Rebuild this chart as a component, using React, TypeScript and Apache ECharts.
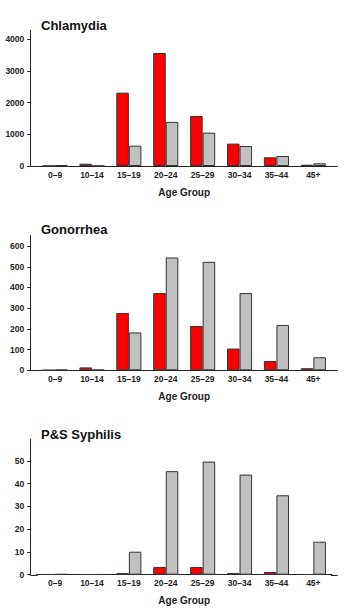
import React, { useEffect, useRef } from "react";
import * as echarts from "echarts";

const categories = ["0–9", "10–14", "15–19", "20–24", "25–29", "30–34", "35–44", "45+"];

const chlamydiaRed = [5, 72, 2310, 3560, 1575, 705, 275, 40];
const chlamydiaGrey = [20, 5, 640, 1390, 1050, 630, 315, 85];
const gonorrheaRed = [1, 14, 277, 373, 214, 105, 45, 10];
const gonorrheaGrey = [3, 3, 183, 545, 524, 373, 219, 63];
const syphilisRed = [0.2, 0.2, 0.7, 3.4, 3.4, 0.7, 1.2, 0.2];
const syphilisGrey = [0.3, 0.2, 10.1, 45.5, 49.7, 44.0, 34.9, 14.5];

const chlamydiaTicks = [0, 1000, 2000, 3000, 4000];
const gonorrheaTicks = [0, 100, 200, 300, 400, 500, 600];
const syphilisTicks = [0, 10, 20, 30, 40, 50];

const titles = ["Chlamydia", "Gonorrhea", "P&S Syphilis"];

const FONT = "'Liberation Sans', Arial, sans-serif";
const TEXT = "#222";
const RED = "#ff0000";
const GREY = "#c0c0c0";
const BORDER = "#333";

export default function App() {
  const ref = useRef<HTMLDivElement>(null);
  useEffect(() => {
    if (!ref.current) return;
    const chart = echarts.init(ref.current, undefined, { renderer: "svg" });

    const gridLeft = 36.6;
    const gridWidth = 295.2;
    const axisX = 30.3;
    const axisRight = 337.7;
    const panels = [
      { top: 30.3, bottom: 166, max: 4275, interval: 1000, ticks: chlamydiaTicks, red: chlamydiaRed, grey: chlamydiaGrey, titleY: 25 },
      { top: 235.3, bottom: 370.3, max: 652, interval: 100, ticks: gonorrheaTicks, red: gonorrheaRed, grey: gonorrheaGrey, titleY: 229.5 },
      { top: 439.3, bottom: 574.7, max: 59.5, interval: 10, ticks: syphilisTicks, red: syphilisRed, grey: syphilisGrey, titleY: 434.5 },
    ];

    const grid = panels.map((p) => ({
      left: gridLeft,
      width: gridWidth,
      top: p.top,
      height: p.bottom - p.top,
      containLabel: false,
    }));

    const xAxis = panels.map((p, i) => ({
      type: "category",
      gridIndex: i,
      data: categories,
      axisLine: { lineStyle: { color: TEXT, width: 1 } },
      axisTick: { show: false },
      axisLabel: { color: TEXT, fontFamily: FONT, fontSize: 8.5, fontWeight: "bold", margin: 4, interval: 0 },
      name: "Age Group",
      nameLocation: "middle",
      nameGap: 21,
      nameTextStyle: { color: TEXT, fontFamily: FONT, fontSize: 10, fontWeight: "bold" },
    }));

    const yAxis = panels.map((p, i) => ({
      type: "value",
      gridIndex: i,
      min: 0,
      max: p.max,
      interval: p.interval,
      offset: gridLeft - axisX,
      splitLine: { show: false },
      axisLine: { show: true, lineStyle: { color: TEXT, width: 1 } },
      axisTick: { show: true, length: 3, lineStyle: { color: TEXT }, customValues: p.ticks },
      axisLabel: {
        color: TEXT,
        fontFamily: FONT,
        fontSize: 8.5,
        fontWeight: "bold",
        margin: 6,
        customValues: p.ticks,
        formatter: (v: number) => String(v),
      },
    }));

    const series: any[] = [];
    panels.forEach((p, i) => {
      series.push({
        type: "bar",
        name: "Red",
        xAxisIndex: i,
        yAxisIndex: i,
        data: p.red,
        barGap: "0%",
        barCategoryGap: "32%",
        itemStyle: { color: RED, borderColor: BORDER, borderWidth: 1 },
      });
      series.push({
        type: "bar",
        name: "Grey",
        xAxisIndex: i,
        yAxisIndex: i,
        data: p.grey,
        barGap: "0%",
        barCategoryGap: "32%",
        itemStyle: { color: GREY, borderColor: BORDER, borderWidth: 1 },
      });
    });

    const graphic: any[] = [];
    panels.forEach((p, i) => {
      graphic.push({
        type: "text",
        x: 41,
        y: p.titleY,
        style: {
          text: titles[i],
          fill: "#111",
          font: `bold 13px ${FONT}`,
          textVerticalAlign: "middle",
          verticalAlign: "middle",
        },
      });
      graphic.push({
        type: "line",
        shape: { x1: axisX, y1: Math.round(p.bottom) + 0.5, x2: gridLeft + 1, y2: Math.round(p.bottom) + 0.5 },
        style: { stroke: TEXT, lineWidth: 1 },
      });
      graphic.push({
        type: "line",
        shape: { x1: gridLeft + gridWidth - 1, y1: Math.round(p.bottom) + 0.5, x2: axisRight, y2: Math.round(p.bottom) + 0.5 },
        style: { stroke: TEXT, lineWidth: 1 },
      });
    });

    chart.setOption({
      animation: false,
      backgroundColor: "#fff",
      grid,
      xAxis,
      yAxis,
      series,
      graphic,
    });
    return () => chart.dispose();
  }, []);

  return (
    <div
      ref={ref}
      style={{ position: "fixed", left: 0, top: 0, width: 353, height: 613, background: "#fff" }}
    />
  );
}
